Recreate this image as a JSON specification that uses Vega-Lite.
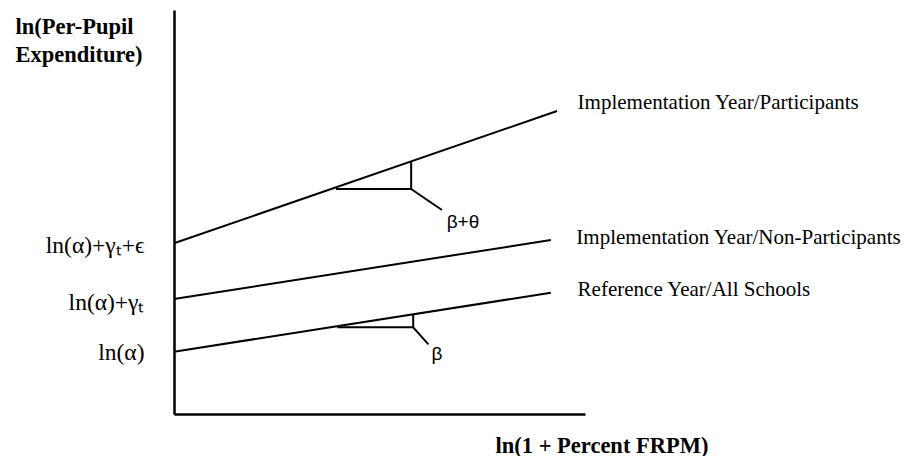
{
  "$schema": "https://vega.github.io/schema/vega-lite/v6.json",
  "width": 411,
  "height": 404,
  "autosize": {"type": "none"},
  "padding": {"left": 174, "top": 10, "right": 325, "bottom": 42},
  "background": "white",
  "config": {"view": {"stroke": null}},
  "data": {
    "values": [
      {"kind": "seg", "x": 0, "y": 4.225, "x2": 9.32, "y2": 7.5},
      {"kind": "seg", "x": 0, "y": 2.847, "x2": 9.17, "y2": 4.307},
      {"kind": "seg", "x": 0, "y": 1.542, "x2": 9.17, "y2": 3.002},
      {"kind": "seg", "x": 3.94, "y": 5.57, "x2": 5.77, "y2": 5.57},
      {"kind": "seg", "x": 5.77, "y": 5.57, "x2": 5.77, "y2": 6.25},
      {"kind": "seg", "x": 5.77, "y": 5.57, "x2": 6.52, "y2": 5.05},
      {"kind": "seg", "x": 3.97, "y": 2.146, "x2": 5.82, "y2": 2.146},
      {"kind": "seg", "x": 5.82, "y": 2.146, "x2": 5.82, "y2": 2.46},
      {"kind": "seg", "x": 5.82, "y": 2.146, "x2": 6.19, "y2": 1.725},
      {"kind": "serif", "x": 9.82, "y": 7.69, "label": "Implementation Year/Participants"},
      {"kind": "serif", "x": 9.79, "y": 4.35, "label": "Implementation Year/Non-Participants"},
      {"kind": "serif", "x": 9.82, "y": 3.07, "label": "Reference Year/All Schools"},
      {"kind": "greek", "x": 7.03, "y": 4.75, "label": "β+θ"},
      {"kind": "greek", "x": 6.4, "y": 1.485, "label": "β"}
    ]
  },
  "encoding": {
    "x": {
      "field": "x", "type": "quantitative",
      "scale": {"domain": [0, 10], "nice": false, "zero": false},
      "axis": {
        "domain": true, "domainColor": "black", "domainWidth": 2.5,
        "ticks": false, "labels": false, "grid": false,
        "title": "ln(1 + Percent FRPM)",
        "titleFont": "Liberation Serif", "titleFontWeight": "bold", "titleFontSize": 22.5,
        "titleColor": "black", "titleAlign": "left", "titleBaseline": "alphabetic",
        "titleX": 321, "titleY": 38, "titleAnchor": null
      }
    },
    "y": {
      "field": "y", "type": "quantitative",
      "scale": {"domain": [0, 10], "nice": false, "zero": false},
      "axis": {
        "domain": true, "domainColor": "black", "domainWidth": 2.5,
        "ticks": false, "grid": false,
        "values": [1.51, 2.75, 4.16],
        "labelExpr": "datum.value > 4 ? 'ln(α)+γₜ+ϵ' : datum.value > 2 ? 'ln(α)+γₜ' : 'ln(α)'",
        "labelFont": "Liberation Serif", "labelFontSize": 23.5, "labelColor": "black",
        "labelPadding": 30, "labelAlign": "right", "labelBaseline": "middle",
        "labelOverlap": false, "labelFlush": false, "labelBound": false,
        "title": ["ln(Per-Pupil", "Expenditure)"],
        "titleFont": "Liberation Serif", "titleFontWeight": "bold", "titleFontSize": 22.5,
        "titleColor": "black", "titleAngle": 0, "titleAlign": "left", "titleBaseline": "alphabetic",
        "titleX": -159, "titleY": 23, "titleLineHeight": 28
      }
    }
  },
  "layer": [
    {
      "transform": [{"filter": "datum.kind === 'seg'"}],
      "mark": {"type": "rule", "color": "black", "strokeWidth": 2},
      "encoding": {
        "x2": {"field": "x2"},
        "y2": {"field": "y2"}
      }
    },
    {
      "transform": [{"filter": "datum.kind === 'serif'"}],
      "mark": {"type": "text", "font": "Liberation Serif", "fontSize": 21, "align": "left", "baseline": "middle", "color": "black"},
      "encoding": {"text": {"field": "label"}}
    },
    {
      "transform": [{"filter": "datum.kind === 'greek'"}],
      "mark": {"type": "text", "font": "Liberation Sans", "fontSize": 19, "align": "center", "baseline": "middle", "color": "black"},
      "encoding": {"text": {"field": "label"}}
    }
  ]
}
